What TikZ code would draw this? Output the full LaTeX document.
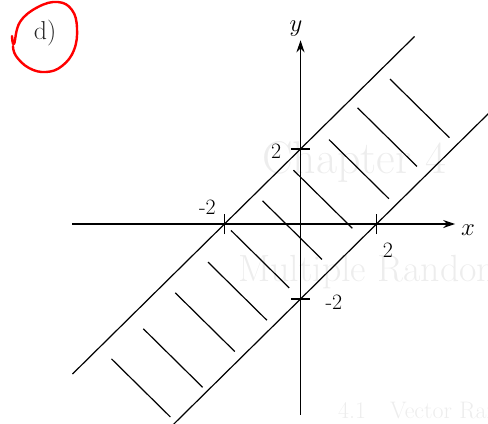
\documentclass[tikz,border=0pt]{standalone}
\usetikzlibrary{arrows.meta}
\begin{document}
\begin{tikzpicture}[x=1bp,y=-1bp,
  axis/.style={line width=1.2bp,-{Stealth[length=12bp,width=8bp,inset=4bp]}},
  bandline/.style={line width=1.2bp},
  hatch/.style={line width=1.2bp},
  tickmark/.style={line width=1.1bp},
  lbl/.style={font=\fontsize{22}{25}\selectfont, inner sep=0pt},
  ghost/.style={text=black!7, inner sep=0pt, anchor=west}]
\useasboundingbox (0,0) rectangle (488,423);
\clip (0,0) rectangle (488,423);
% faint bleed-through text
\node[ghost, font=\fontsize{46}{50}\selectfont] (g1) at (262,162) {Chapter 4};
\node[ghost, font=\fontsize{38}{42}\selectfont] (g2) at (238,272) {Multiple Random};
\node[ghost, font=\fontsize{24}{28}\selectfont] (g3) at (338,410) {4.1\quad Vector Random Variables};
% label d)
\node[font=\fontsize{26}{30}\selectfont, text=black!85, inner sep=0pt] (d) at (45,33) {d)};
\draw[red, line width=2.4bp, line cap=round, line join=round]
  plot[smooth, tension=0.7] coordinates {(12,36) (14,44) (20,22) (38,7) (58,2) (72,10) (77,28) (74,50) (62,66) (46,72) (29,68) (16,56) (13,46)};
\begin{scope}[shift={(300.5,224)}, x=38bp, y=37.5bp]
  % axes
  \coordinate (xl) at (-6.0,0);
  \coordinate (xr) at (4.07,0);
  \coordinate (yb) at (0,-5.09);
  \coordinate (yt) at (0,4.9);
  \draw[axis] (xl) -- (xr);
  \draw[axis] (yb) -- (yt);
  \node[lbl, font=\fontsize{23}{26}\selectfont] (xlab) at (4.41,-0.17) {$x$};
  \node[lbl, font=\fontsize{23}{26}\selectfont] (ylab) at (-0.12,5.22) {$y$};
  % band lines
  \coordinate (u1) at (-6,-4);
  \coordinate (u2) at (3,5);
  \coordinate (l1) at (-4,-6);
  \coordinate (l2) at (6,4);
  \draw[bandline] (u1) -- (u2);
  \draw[bandline] (l1) -- (l2);
  % hatches
  \foreach \u/\a/\b in {6.22/1.51/-1.62, 4.6/1.6/-1.53, 3.0/1.5/-1.65, 1.25/1.62/-1.48,
      -0.38/1.62/-1.51, -2.0/1.66/-1.41, -3.45/1.42/-1.68, -5.13/1.46/-1.67,
      -6.93/1.34/-1.78, -8.57/1.38/-1.72}
    \draw[hatch] ({(\u-\a)/2},{(\u+\a)/2}) -- ({(\u-\b)/2},{(\u+\b)/2});
  % ticks
  \draw[tickmark] (-2,-0.27) -- (-2,0.27);
  \draw[tickmark] (2,-0.27) -- (2,0.27);
  \draw[tickmark] (-0.24,2) -- (0.24,2);
  \draw[tickmark] (-0.24,-2) -- (0.24,-2);
  % tick labels
  \node[lbl] (tm2x) at (-2.45,0.45) {-2};
  \node[lbl] (tp2x) at (2.3,-0.69) {2};
  \node[lbl] (tp2y) at (-0.64,1.95) {2};
  \node[lbl] (tm2y) at (0.88,-2.08) {-2};
\end{scope}
\end{tikzpicture}
\end{document}
